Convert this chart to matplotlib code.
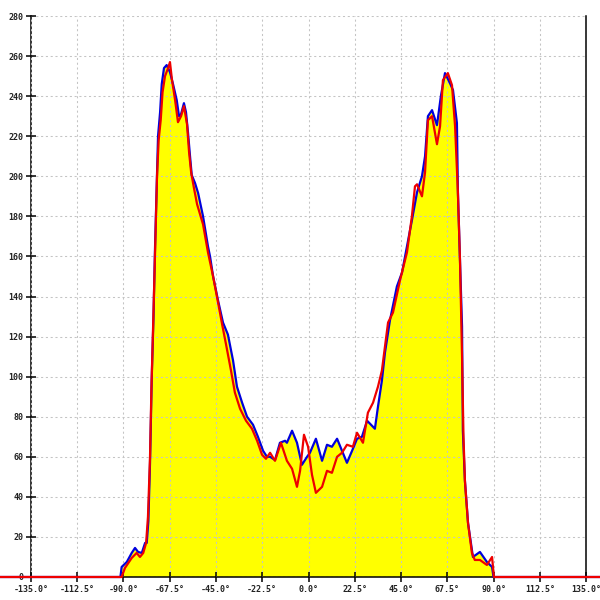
import numpy as np
import matplotlib
matplotlib.use("Agg")
import matplotlib.pyplot as plt

# angle (deg) / count readings for the two traces
blue_deg = [-150, -91.5, -90.9, -88.4, -86.0, -84.4, -82.9, -81.1, -79.5, -78.7, -77.9,
            -77.1, -76.6, -76.3, -75.4, -74.7, -73.8, -73.2, -72.2, -71.4, -70.3,
            -69.0, -67.4, -65.9, -64.1, -63.0, -62.0, -60.6, -59.6, -58.6, -57.6,
            -56.8, -55.2, -53.7, -51.3, -48.9, -47.9, -46.4, -44.0, -41.6, -39.2,
            -36.7, -34.8, -32.3, -29.9, -27.0, -24.6, -22.1, -20.2, -18.7, -16.3,
            -13.9, -11.4, -10.5, -8.0, -5.6, -3.2, -0.7, 0.7, 3.6, 6.6, 9.0, 11.4,
            13.9, 16.3, 18.7, 21.2, 23.6, 26.0, 28.5, 32.3, 33.8, 35.7, 37.2, 39.6,
            43.0, 45.5, 47.9, 50.3, 52.8, 55.2, 56.7, 58.1, 60.1, 62.5, 64.4, 66.4,
            68.8, 70.3, 72.2, 72.7, 73.7, 74.7, 75.1, 76.1, 77.6, 80.0, 83.4, 86.8,
            89.3, 90.0, 142]
blue_val = [0, 0, 5, 7.5, 12, 14.5, 12.5, 12, 17, 17, 28,
            57, 82, 98, 130, 163, 197, 220, 232, 246, 254,
            255.5, 252, 246, 238, 230, 231, 236.5, 232, 221.6, 209.6,
            200.6, 196.6, 191.6, 180, 165, 160, 150, 138, 127, 121,
            108, 95, 87, 80, 76, 70, 63, 60, 60, 58.4,
            67, 68, 67, 73, 67, 56, 60, 62, 69, 58, 66, 65,
            69, 63, 57, 63, 69, 70, 78, 74, 85, 98, 112, 128,
            145, 152, 165, 178, 192, 200, 210, 230, 233, 225.5, 240, 251.5,
            246.5, 243, 226.6, 191.6, 158, 125, 73, 48, 27, 10, 12.5, 7.5,
            5, 0, 0]

red_deg = [-150, -90.9, -89.3, -86.0, -83.6, -82.0, -80.4, -79.0, -78.1, -77.1,
           -76.4, -75.6, -74.7, -73.7, -72.9, -71.9, -71.0, -69.8, -68.3, -67.4,
           -66.4, -64.9, -63.5, -62.0, -60.6, -59.1, -58.1, -57.1, -55.7, -54.2,
           -51.3, -48.9, -46.4, -44.0, -42.0, -40.1, -37.7, -35.8, -33.3, -30.4,
           -27.5, -25.0, -22.6, -20.7, -18.7, -16.3, -13.4, -10.5, -8.0, -5.6,
           -4.1, -2.2, -0.2, 1.7, 3.6, 6.6, 9.0, 11.4, 13.9, 16.3, 18.7, 21.6,
           23.6, 26.5, 28.9, 31.4, 33.8, 35.7, 38.7, 41.1, 44.5, 47.9, 50.3, 51.8,
           52.8, 55.2, 56.7, 58.1, 60.1, 62.5, 64.0, 65.4, 67.8, 69.8, 71.3, 72.7,
           73.7, 74.7, 75.4, 76.1, 77.6, 79.5, 80.9, 83.4, 86.8, 89.3, 90.2, 142]
red_val = [0, 0, 4.5, 9.5, 12, 10, 12, 17, 30, 60,
           95, 125, 160, 200, 218, 228, 242, 250, 254, 257,
           248, 238, 227, 230, 235, 226, 212, 202, 194, 186,
           176, 162, 150, 137, 126, 116, 103, 92, 84, 78,
           74, 68, 61, 59, 62, 58, 67, 58, 54, 45,
           53, 71, 65, 51, 42, 45, 53, 52, 60, 62, 66, 65,
           72, 67, 82, 87, 95, 103, 127, 132, 148, 162, 180, 195,
           196, 190, 202, 228, 230, 216, 225, 248, 251.5, 245.5, 225, 191.6,
           158, 110, 70, 48, 27, 12, 8.5, 8.5, 6, 10, 0, 0]

y_ticks = list(range(0, 281, 20))
x_ticks = list(np.arange(-135, 135.1, 22.5))

fig = plt.figure(figsize=(6, 6), dpi=100)
ax = fig.add_axes([31 / 600, 23 / 600, 555 / 600, 561 / 600])

ax.fill_between(blue_deg, blue_val, 0, color="#ffff00", linewidth=0, zorder=1)
ax.plot(blue_deg, blue_val, color="#0000dd", linewidth=1.6, zorder=3, clip_on=False)
ax.plot(red_deg, red_val, color="#ee0000", linewidth=1.6, zorder=4, clip_on=False)

ax.set_xlim(-135, 135)
ax.set_ylim(0, 280)
ax.set_xticks(x_ticks)
ax.set_xticklabels([f"{t:.1f}°" for t in x_ticks])
ax.set_yticks(y_ticks)
ax.set_yticklabels([str(t) for t in y_ticks])

# fine dotted grid drawn over the fill
ax.grid(True, color="#c4c4c4", linestyle=(0, (2, 2.6)), linewidth=0.75, zorder=2)
ax.set_axisbelow(False)
ax.spines["top"].set_visible(False)
for s in ("left", "right", "bottom"):
    ax.spines[s].set_color("black")
    ax.spines[s].set_linewidth(1.1)

ax.tick_params(axis="both", direction="inout", length=7, width=1.1, color="black",
               labelsize=6, labelcolor="#222222", pad=2)
for lab in ax.get_xticklabels() + ax.get_yticklabels():
    lab.set_family("DejaVu Sans Mono")
    lab.set_fontweight("bold")

fig.savefig("out.png", dpi=100, facecolor="white")
